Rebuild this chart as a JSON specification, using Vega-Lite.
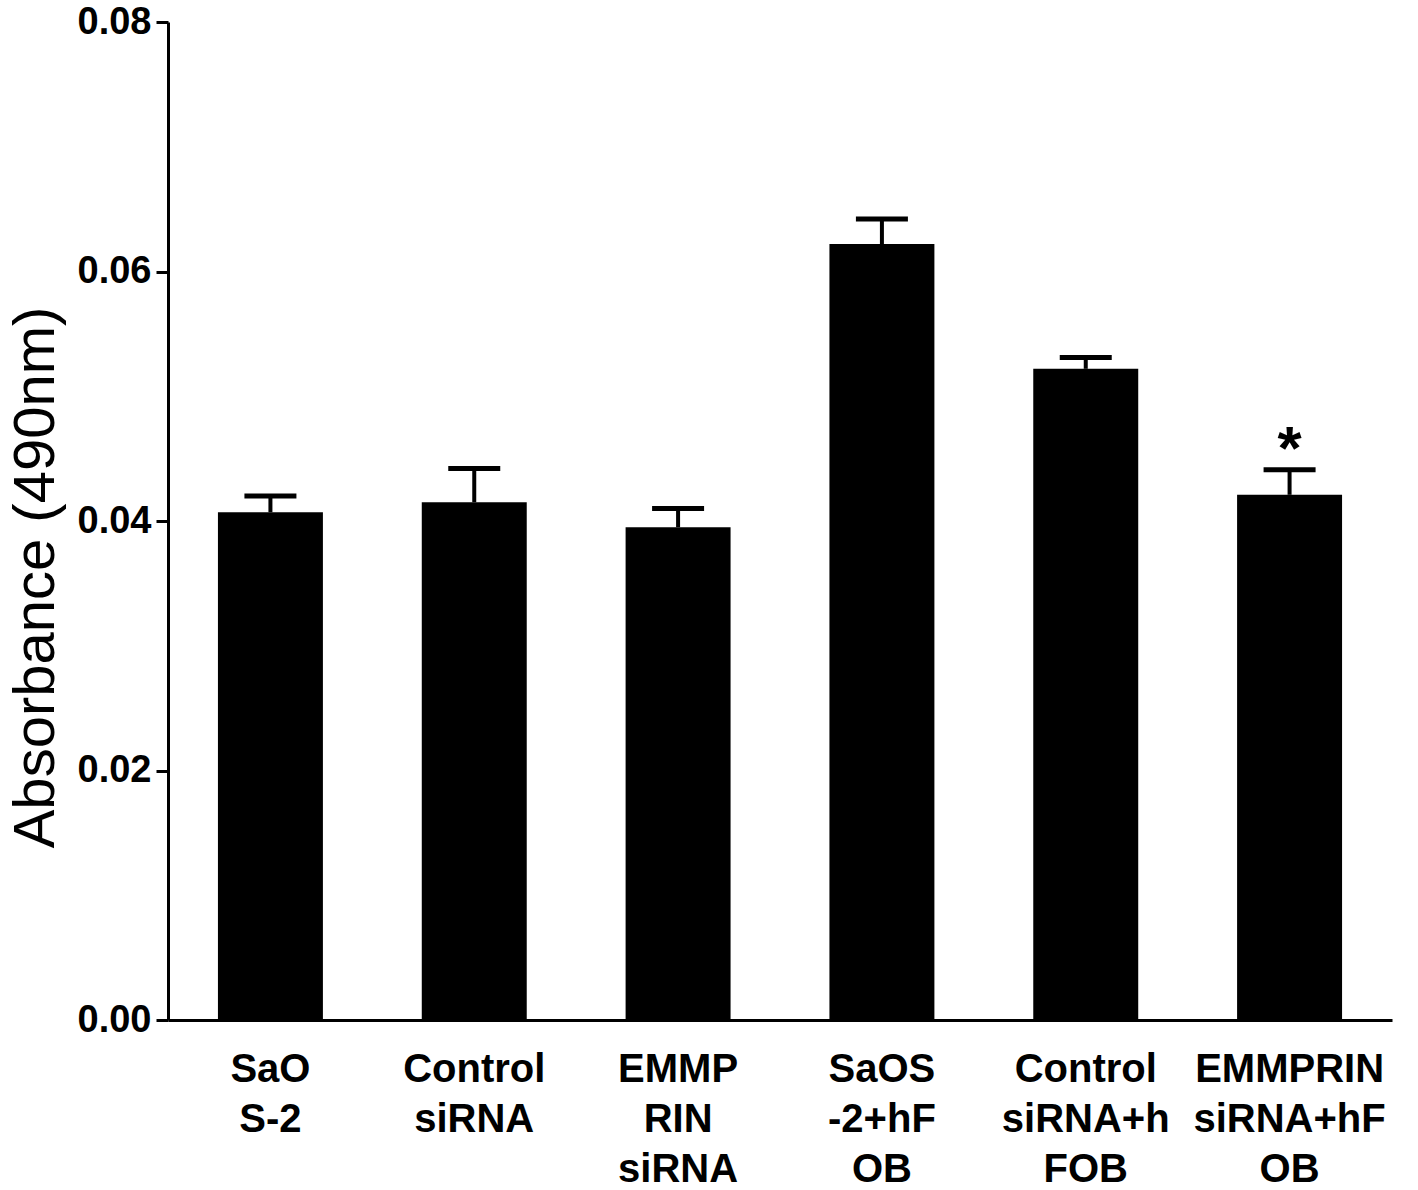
{
  "$schema": "https://vega.github.io/schema/vega-lite/v6.json",
  "width": 1224,
  "height": 998,
  "autosize": {"type": "none"},
  "padding": {"left": 168, "top": 22, "right": 26, "bottom": 170},
  "background": "white",
  "config": {
    "view": {"stroke": null},
    "font": "Liberation Sans"
  },
  "data": {
    "values": [
      {"group": "SaO|S-2", "value": 0.0407, "upper": 0.0420, "sig": ""},
      {"group": "Control|siRNA", "value": 0.0415, "upper": 0.0442, "sig": ""},
      {"group": "EMMP|RIN|siRNA", "value": 0.0395, "upper": 0.0410, "sig": ""},
      {"group": "SaOS|-2+hF|OB", "value": 0.0622, "upper": 0.0642, "sig": ""},
      {"group": "Control|siRNA+h|FOB", "value": 0.0522, "upper": 0.0531, "sig": ""},
      {"group": "EMMPRIN|siRNA+hF|OB", "value": 0.0421, "upper": 0.0441, "sig": "*"}
    ]
  },
  "encoding": {
    "x": {
      "field": "group",
      "type": "nominal",
      "sort": null,
      "scale": {"paddingInner": 0.485, "paddingOuter": 0.245},
      "axis": {
        "title": null,
        "labelAngle": 0,
        "labelExpr": "split(datum.label, '|')",
        "labelFontSize": 40,
        "labelFontWeight": "bold",
        "labelLineHeight": 50,
        "labelPadding": 29,
        "labelLimit": 0,
        "labelColor": "black",
        "ticks": false,
        "domainColor": "black",
        "domainWidth": 3
      }
    }
  },
  "layer": [
    {
      "mark": {"type": "bar", "color": "black"},
      "encoding": {
        "y": {
          "field": "value",
          "type": "quantitative",
          "scale": {"domain": [0, 0.08], "nice": false},
          "axis": {
            "title": "Absorbance (490nm)",
            "titleFontSize": 58,
            "titleFontWeight": "normal",
            "titleColor": "black",
            "titlePadding": 12,
            "titleY": 555,
            "values": [0, 0.02, 0.04, 0.06, 0.08],
            "format": ".2f",
            "labelFontSize": 38,
            "labelFontWeight": "bold",
            "labelColor": "black",
            "labelPadding": 5,
            "tickSize": 12,
            "tickWidth": 3,
            "tickColor": "black",
            "domainColor": "black",
            "domainWidth": 3,
            "grid": false
          }
        }
      }
    },
    {
      "mark": {"type": "rule", "color": "black", "strokeWidth": 4, "opacity": 1},
      "encoding": {
        "y": {"field": "value", "type": "quantitative"},
        "y2": {"field": "upper"}
      }
    },
    {
      "mark": {"type": "tick", "color": "black", "thickness": 5, "size": 52, "orient": "horizontal", "opacity": 1},
      "encoding": {
        "y": {"field": "upper", "type": "quantitative"}
      }
    },
    {
      "mark": {"type": "text", "color": "black", "fontSize": 62, "fontWeight": "bold", "baseline": "middle", "dy": -20},
      "encoding": {
        "y": {"field": "upper", "type": "quantitative"},
        "text": {"field": "sig"}
      }
    }
  ]
}
